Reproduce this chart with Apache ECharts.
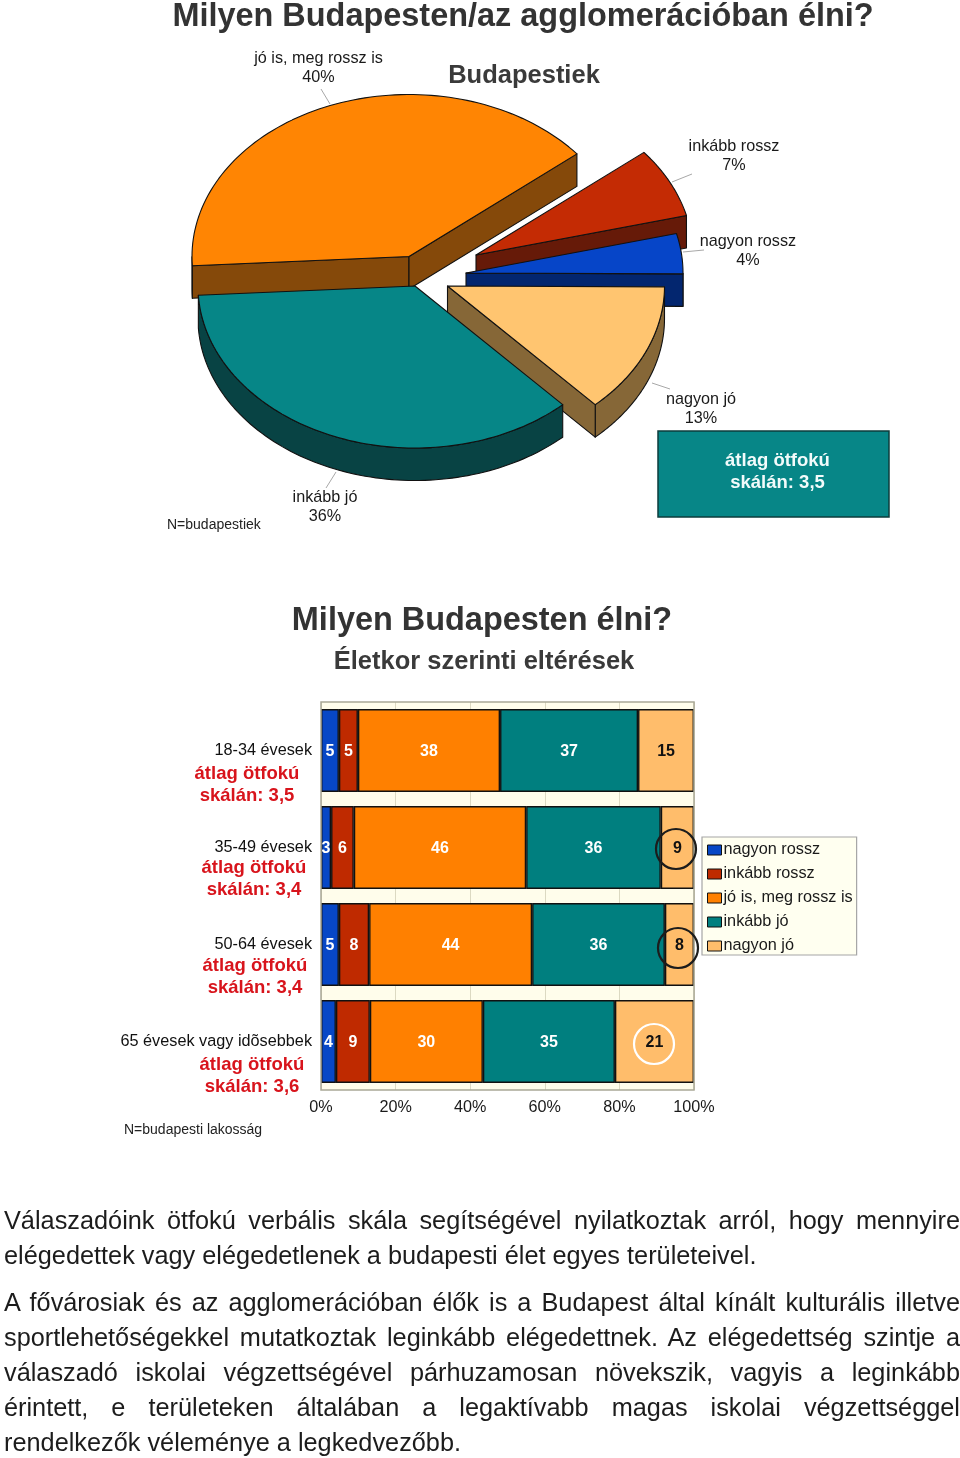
<!DOCTYPE html>
<html><head><meta charset="utf-8">
<style>
html,body{margin:0;padding:0;background:#fff}
#main{position:absolute;left:0;top:0;width:960px;height:1458px}
.ln{position:absolute;left:4px;width:956px;font:25.3px/35px 'Liberation Sans',Arial,sans-serif;color:#1c1c1c;white-space:normal}
.j{text-align:justify;text-align-last:justify}
</style>
<script src="https://cdn.jsdelivr.net/npm/echarts@6/dist/echarts.min.js"></script>
</head><body>
<div id="main"></div>
<div id="text"></div>
<script>
// ---- data: pie
const pieNames = ['jó is, meg rossz is','inkább rossz','nagyon rossz','nagyon jó','inkább jó'];
const pieValues = [40,7,4,13,36];
// ---- data: stacked bars
const ageGroups = ['18-34 évesek','35-49 évesek','50-64 évesek','65 évesek vagy idõsebbek'];
const averages = ['3,5','3,4','3,4','3,6'];
const nagyonRossz = [4.8,2.7,4.8,4.0];
const inkabbRossz = [5.1,6.1,8.1,9.1];
const joIsRosszIs = [38.1,46.2,43.7,30.3];
const inkabbJo = [37.0,36.1,35.6,35.4];
const nagyonJo = [15.0,8.9,7.8,21.2];
const axisTicks = [0,20,40,60,80,100];
// ---- text
const bodyLines = [
 ['Válaszadóink ötfokú verbális skála segítségével nyilatkoztak arról, hogy mennyire',1,1202.5],
 ['elégedettek vagy elégedetlenek a budapesti élet egyes területeivel.',0,1237.5],
 ['A fővárosiak és az agglomerációban élők is a Budapest által kínált kulturális illetve',1,1284.5],
 ['sportlehetőségekkel mutatkoztak leginkább elégedettnek. Az elégedettség szintje a',1,1319.5],
 ['válaszadó iskolai végzettségével párhuzamosan növekszik, vagyis a leginkább',1,1354.5],
 ['érintett, e területeken általában a legaktívabb magas iskolai végzettséggel',1,1389.5],
 ['rendelkezők véleménye a legkedvezőbb.',0,1424.5]
];
const FONT = "'Liberation Sans', Arial, sans-serif";

// layout of the exploded 3D pie
const PIE = {cx:416, cy:286, rx:217, ry:162, depth:32.5, start:-183.3};
const explode = [[-7,-29.5],[60,-31],[50,-13],[31.5,0],[-1,0]];
const pieTop = ['#ff8503','#c42b04','#0645c8','#ffc570','#068687'];
const pieSide = ['#85490a','#661a08','#03266f','#866737','#084344'];
const pieLabelPos = [[318.5,68],[734,156],[748,251],[701,409],[325,507]];
const pieLeaders = [[[321,89],[330,104]],[[692,174],[672,182]],[[704,250],[683,252]],[[670,389],[652,383]],[[336,472],[326,488]]];

function renderSlice(params, api){
  const i = params.dataIndex;
  const total = pieValues.reduce((a,b)=>a+b,0);
  let before = 0; for(let k=0;k<i;k++) before += pieValues[k];
  const v = api.value(0);
  const t0 = PIE.start + before/total*360, t1 = t0 + v/total*360;
  const cx = PIE.cx+explode[i][0], cy = PIE.cy+explode[i][1];
  const P = t => [cx+PIE.rx*Math.cos(t*Math.PI/180), cy+PIE.ry*Math.sin(t*Math.PI/180)];
  const line = {stroke:'#111', lineWidth:1.1, lineJoin:'round'};
  const poly = (pts,fill)=>({type:'polygon',shape:{points:pts},style:Object.assign({fill},line)});
  const down = p=>[p[0],p[1]+PIE.depth];
  const children = [];
  // outer rim: only the part facing the viewer
  const norm = a=>{a=(a%360+360)%360;return a;};
  const steps = 90;
  let run = [];
  const flush=()=>{ if(run.length>1){ children.push(poly(run.concat(run.slice().reverse().map(down)),pieSide[i])); } run=[]; };
  for(let s=0;s<=steps;s++){
    const t=t0+(t1-t0)*s/steps;
    if(norm(t)<=180) run.push(P(t)); else flush();
  }
  flush();
  // radial walls that face the viewer
  const apex=[cx,cy];
  [[t0,t1],[t1,t0]].forEach(([e,o])=>{
    const p=P(e), q=P(o);
    const ex=p[0]-cx, ey=p[1]-cy;
    let nx=-ey, ny=ex;
    if(nx*(q[0]-cx)+ny*(q[1]-cy)>0){nx=-nx;ny=-ny;}
    if(ny>0) children.push(poly([apex,p,down(p),down(apex)],pieSide[i]));
  });
  // top face
  const top=[apex];
  for(let s=0;s<=steps;s++) top.push(P(t0+(t1-t0)*s/steps));
  children.push(poly(top,pieTop[i]));
  // leader + label
  const L=pieLeaders[i];
  children.push({type:'line',shape:{x1:L[0][0],y1:L[0][1],x2:L[1][0],y2:L[1][1]},style:{stroke:'#a8a8a8',lineWidth:1}});
  children.push({type:'text',x:pieLabelPos[i][0],y:pieLabelPos[i][1],style:{
    text:pieNames[i]+'\n'+v+'%',font:'16.2px '+FONT,fill:'#1a1a1a',align:'center',verticalAlign:'middle',lineHeight:19}});
  return {type:'group',children};
}

const barColors = ['#0747c6','#bf2a00','#ff8000','#007f7f','#ffbd6b'];
const barSeriesNames = ['nagyon rossz','inkább rossz','jó is, meg rossz is','inkább jó','nagyon jó'];
const barSeriesData = [nagyonRossz,inkabbRossz,joIsRosszIs,inkabbJo,nagyonJo];
const barSeries = barSeriesNames.map((name,i)=>({
  name,type:'bar',stack:'all',barWidth:83,data:barSeriesData[i],
  itemStyle:{color:barColors[i],borderColor:'#111',borderWidth:1.4},
  label:{show:true,position:'inside',offset:[0,1],fontFamily:FONT,fontWeight:'bold',fontSize:16,
    color:i===4?'#111':'#fff',formatter:p=>Math.round(p.value)},
  emphasis:{disabled:true}
}));

const T=(text,x,y,font,fill,align,extra)=>Object.assign({type:'text',z:100,x,y,style:{text,font:font+' '+FONT,fill,align:align||'center',verticalAlign:'middle'}},extra||{});
const redPos=[[247,784.5],[254,878.5],[255,976.5],[252,1075.5]];
const circlePos=[[676,849,'#1c1c1c'],[678,948,'#1c1c1c'],[654,1044,'#ffffff']];
const graphics=[
  T('Milyen Budapesten/az agglomerációban élni?',523,17,'bold 32.45px','#333'),
  T('Budapestiek',524,76,'bold 25.5px','#3a3a3a'),
  T('N=budapestiek',167,525,'14px','#222','left'),
  {type:'rect',z:100,shape:{x:658,y:431,width:231,height:86},style:{fill:'#078687',stroke:'#0d3d3d',lineWidth:1.5}},
  {type:'text',z:101,x:777.5,y:472,style:{text:'átlag ötfokú\nskálán: 3,5',font:'bold 18.5px '+FONT,fill:'#f2fbfb',align:'center',verticalAlign:'middle',lineHeight:22}},
  T('Milyen Budapesten élni?',482,621,'bold 32.45px','#333'),
  T('Életkor szerinti eltérések',484,662,'bold 25.5px','#3a3a3a'),
  T('N=budapesti lakosság',124,1130,'14px','#222','left'),
  {type:'rect',z:50,shape:{x:321,y:702,width:373,height:388},style:{fill:'none',stroke:'#a9a896',lineWidth:1.5}}
];
averages.forEach((a,i)=>{
  graphics.push({type:'text',z:100,x:redPos[i][0],y:redPos[i][1],style:{text:'átlag ötfokú\nskálán: '+a,font:'bold 18.5px '+FONT,fill:'#d8141c',align:'center',verticalAlign:'middle',lineHeight:22}});
});
circlePos.forEach(c=>graphics.push({type:'circle',z:100,shape:{cx:c[0],cy:c[1],r:20},style:{fill:'none',stroke:c[2],lineWidth:2.2}}));

const chart=echarts.init(document.getElementById('main'),null,{renderer:'canvas',width:960,height:1458});
chart.setOption({
  animation:false,
  backgroundColor:'#fff',
  textStyle:{fontFamily:FONT},
  grid:{left:321,top:702,width:373,height:388,show:true,backgroundColor:'#fffdeb',borderWidth:0,containLabel:false},
  legend:{
    orient:'vertical',left:702,top:837,padding:[5,4,1,5],itemWidth:14,itemHeight:10,itemGap:8,icon:'rect',
    data:barSeriesNames,backgroundColor:'#fffff0',borderColor:'#a6a6a6',borderWidth:1.2,selectedMode:false,
    textStyle:{fontFamily:FONT,fontSize:16.25,color:'#1a1a1a',lineHeight:16,padding:[0,0,0,-3]},
    itemStyle:{borderColor:'#111',borderWidth:1}
  },
  xAxis:{type:'value',min:axisTicks[0],max:axisTicks[axisTicks.length-1],interval:20,
    axisLine:{show:false},axisTick:{show:false},
    splitLine:{show:true,lineStyle:{color:'#dcd9c2',width:1}},
    axisLabel:{formatter:'{value}%',fontFamily:FONT,fontSize:16.2,color:'#1a1a1a',margin:10}},
  yAxis:{type:'category',inverse:true,data:ageGroups,axisLine:{show:false},axisTick:{show:false},
    axisLabel:{fontFamily:FONT,fontSize:16.25,color:'#111',margin:9}},
  series:barSeries.concat([{
    name:'Budapestiek',type:'custom',coordinateSystem:'none',renderItem:renderSlice,
    data:pieValues.map((v,i)=>({name:pieNames[i],value:[v]})),silent:true,z:5
  }]),
  graphic:{elements:graphics}
});
const host=document.getElementById('text');
bodyLines.forEach(([t,j,y])=>{const d=document.createElement('div');d.className='ln'+(j?' j':'');d.style.top=y+'px';d.textContent=t;host.appendChild(d);});
</script>
</body></html>
